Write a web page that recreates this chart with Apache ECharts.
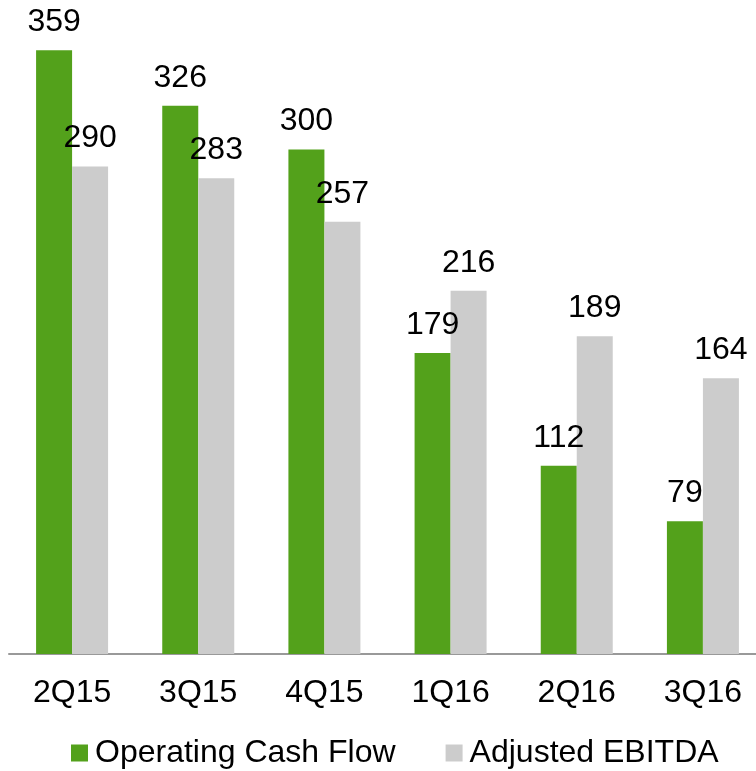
<!DOCTYPE html>
<html>
<head>
<meta charset="utf-8">
<style>
  html, body { margin: 0; padding: 0; background: #fff; }
  #chart { width: 756px; height: 771px; }
</style>
<script src="https://cdn.jsdelivr.net/npm/echarts@6/dist/echarts.min.js"></script>
</head>
<body>
<div id="chart"></div>
<script>
  // quarters on the x axis
  var quarters = ['2Q15', '3Q15', '4Q15', '1Q16', '2Q16', '3Q16']
  var operatingCashFlow = [359, 326, 300, 179, 112, 79]
  var adjustedEbitda = [290, 283, 257, 216, 189, 164]

  var font = 'Liberation Sans, Arial, sans-serif'

  var chart = echarts.init(document.getElementById('chart'))
  var labelStyle = {
    show: true,
    position: 'top',
    distance: 12,
    color: '#000',
    fontSize: 32,
    fontFamily: font
  }

  chart.setOption({
    animation: false,
    legend: {
      top: 732,
      left: 66,
      itemWidth: 17,
      itemHeight: 17,
      itemGap: 50,
      icon: 'rect',
      textStyle: { color: '#000', fontSize: 32, fontFamily: font, padding: [0, 0, 0, 2] },
      data: ['Operating Cash Flow', 'Adjusted EBITDA']
    },
    grid: {
      left: 9,
      right: -10,
      top: 10,
      bottom: 117,
      outerBoundsMode: 'none'
    },
    xAxis: {
      type: 'category',
      data: quarters,
      axisLine: { lineStyle: { color: '#999', width: 2 } },
      axisTick: { show: false },
      axisLabel: { color: '#000', fontSize: 32, fontFamily: font, margin: 23 }
    },
    yAxis: {
      type: 'value',
      min: 0,
      max: 383,
      show: false,
      splitLine: { show: false }
    },
    series: [{
      name: 'Operating Cash Flow',
      type: 'bar',
      barWidth: 36,
      barGap: '0%',
      itemStyle: { color: '#53A11B' },
      label: labelStyle,
      data: operatingCashFlow
    }, {
      name: 'Adjusted EBITDA',
      type: 'bar',
      barWidth: 36,
      itemStyle: { color: '#CCCCCC' },
      label: labelStyle,
      data: adjustedEbitda
    }]
  })
</script>
</body>
</html>
